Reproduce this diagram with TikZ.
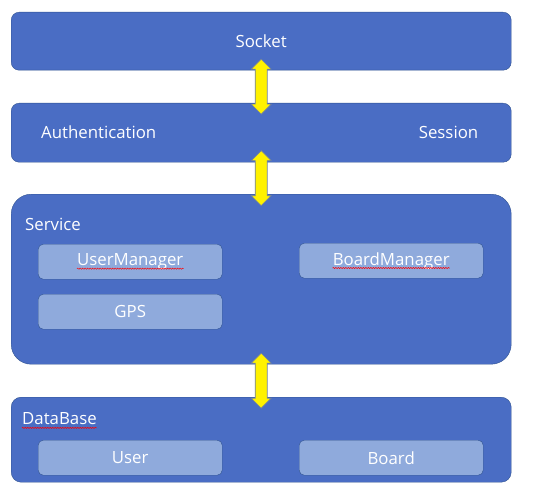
\documentclass[tikz,border=0pt]{standalone}
\usepackage{fontspec}
\setmainfont{Open Sans}
\usetikzlibrary{calc,decorations.pathmorphing}
\definecolor{layerblue}{RGB}{74,109,196}
\definecolor{layerline}{RGB}{47,82,143}
\definecolor{subblue}{RGB}{143,170,220}
\definecolor{arrowline}{RGB}{112,128,160}

\begin{document}
\begin{tikzpicture}[x=1pt, y=-1pt,
      layer/.style={draw=layerline, fill=layerblue, rounded corners=8pt, minimum width=500pt,
                    anchor=north west, inner sep=0pt},
      subbox/.style={draw=layerline, fill=subblue, rounded corners=5pt, minimum width=184pt,
                     minimum height=35pt, anchor=north west, inner sep=0pt},
      lbl/.style={text=white, font=\fontsize{16.8}{19}\selectfont, inner sep=0pt},
      updown/.pic={\draw[draw=arrowline, fill=yellow, line width=0.6pt]
                     (0,-27.5) -- (10,-17.5) -- (6,-17.5) -- (6,17.5) -- (10,17.5) -- (0,27.5)
                     -- (-10,17.5) -- (-6,17.5) -- (-6,-17.5) -- (-10,-17.5) -- cycle;},
      squiggle/.style={draw=red, line width=0.5pt, decorate,
                       decoration={snake, amplitude=0.6pt, segment length=2.5pt}}]
    \useasboundingbox (0,0) rectangle (548,500);
    % layers
    \node[layer, lbl, minimum height=58pt] (socket) at (11,12) {Socket};
    \node[layer, minimum height=59pt] (auth) at (11,103) {};
    \node[lbl, anchor=west] (authn) at ([xshift=30pt]auth.west) {Authentication};
    \node[lbl, anchor=east] (session) at ([xshift=-33pt]auth.east) {Session};
    \node[layer, minimum height=170pt, rounded corners=20pt] (service) at (11,194) {};
    \node[lbl, anchor=west] (servicelbl) at (25,224) {Service};
    \node[layer, minimum height=85pt, rounded corners=10pt] (db) at (11,397) {};
    \node[lbl, anchor=west] (dblbl) at (22,419) {DataBase};
    % inner boxes
    \node[subbox] (um) at (38,244) {};
    \node[lbl] (umtext) at (um) {UserManager};
    \node[subbox] (bm) at (299,243) {};
    \node[lbl] (bmtext) at (bm) {BoardManager};
    \node[subbox, lbl] (gps) at (38,294) {GPS};
    \node[subbox, lbl] (user) at (38,440) {User};
    \node[subbox, lbl] (board) at (299,440) {Board};
    % arrows between layers
    \pic (a1) at ($(socket.south)!0.5!(auth.north)$) {updown};
    \pic (a2) at ($(auth.south)!0.5!(service.north)$) {updown};
    \pic (a3) at ($(service.south)!0.5!(db.north)$) {updown};
    % spell check marks
    \draw[squiggle] ([yshift=-3pt]umtext.base west) -- ([yshift=-3pt]umtext.base east);
    \draw[squiggle] ([yshift=-3pt]bmtext.base west) -- ([yshift=-3pt]bmtext.base east);
    \draw[squiggle] ([yshift=-3pt]dblbl.base west) -- ([yshift=-3pt]dblbl.base east);
  \end{tikzpicture}
\end{document}
